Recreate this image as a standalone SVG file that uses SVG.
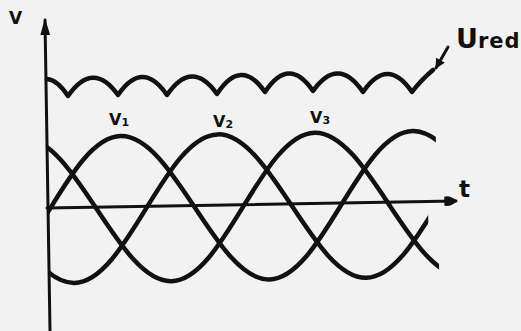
<svg xmlns="http://www.w3.org/2000/svg" width="521" height="331" viewBox="0 0 521 331">
<style>
.ax{stroke:#111;stroke-width:3;fill:none;stroke-linecap:round}
.wave{stroke:#111;stroke-width:4.5;fill:none;stroke-linecap:round;stroke-linejoin:round}
.lbl{font-family:"DejaVu Sans","Liberation Sans",sans-serif;font-weight:bold;fill:#111}
</style>
<defs>
<marker id="ah" viewBox="0 0 10 10" refX="9" refY="5" markerWidth="10" markerHeight="10" markerUnits="userSpaceOnUse" orient="auto">
<path d="M0,0 L10,5 L0,10 z" fill="#111"/>
</marker>
<marker id="ahv" viewBox="0 0 10 10" refX="9" refY="5" markerWidth="17" markerHeight="10" markerUnits="userSpaceOnUse" orient="auto" preserveAspectRatio="none">
<path d="M0,0 L10,5 L0,10 z" fill="#111"/>
</marker>
<marker id="ahh" viewBox="0 0 10 10" refX="9" refY="5" markerWidth="13" markerHeight="11" markerUnits="userSpaceOnUse" orient="auto" preserveAspectRatio="none">
<path d="M0,1 Q4,-1 10,5 Q4,11 0,9 z" fill="#111"/>
</marker>
<clipPath id="c1"><rect x="47" y="0" width="390" height="331"/></clipPath>
<clipPath id="c2"><rect x="47" y="0" width="381" height="331"/></clipPath>
<clipPath id="c3"><rect x="47" y="0" width="391" height="331"/></clipPath>
</defs>
<rect width="521" height="331" fill="#f1f2f1"/>
<g id="connectors">
<path id="axis-v" class="ax" d="M50 331 L45 20" marker-end="url(#ahv)"/>
<path id="axis-t" class="ax" d="M47 208 L456 201" marker-end="url(#ahh)"/>
<path id="ured-pointer" class="ax" stroke-width="2.5" d="M448 47 L436 68" marker-end="url(#ah)"/>
</g>
<g id="ured-curve">
<path class="wave" stroke-width="5" d="M47 79 Q57.5 80 68 96 Q93 60 118 95 Q142.5 59 167 95 Q192 58.5 217 94 Q241 57 265 92 Q289 55.5 313 91 Q338 55.5 363 92 Q387.5 56 412 92 Q421 80 433 70"/>
</g>
<g transform="rotate(-1 240 207)">
<g id="v1" clip-path="url(#c1)">
<path class="wave" d="M-24 280 C29 280 69 134 122 134 C175 134 215 280 268 280 C321 280 361 134 414 134 C467 134 507 280 560 280"/>
</g>
<g id="v2" clip-path="url(#c2)">
<path class="wave" d="M-73 134 C-20 134 20 280 73 280 C126 280 166 134 219 134 C272 134 312 280 365 280 C418 280 458 134 511 134"/>
</g>
<g id="v3" clip-path="url(#c3)">
<path class="wave" d="M-122 280 C-69 280 -29 134 24 134 C77 134 117 280 170 280 C223 280 263 134 316 134 C369 134 409 280 462 280"/>
</g>
</g>
<g id="labels">
<text class="lbl" x="9" y="24" font-size="17">V</text>
<text class="lbl" x="109" y="125" font-size="16">V<tspan font-size="11" dy="1">1</tspan></text>
<text class="lbl" x="213" y="127" font-size="16">V<tspan font-size="11" dy="1">2</tspan></text>
<text class="lbl" x="310" y="123" font-size="16">V<tspan font-size="11" dy="1">3</tspan></text>
<text class="lbl" x="459" y="197" font-size="23" font-weight="normal">t</text>
<text class="lbl" x="456" y="48" font-size="27" font-weight="normal">U<tspan font-size="21" letter-spacing="1">red</tspan></text>
</g>
</svg>
